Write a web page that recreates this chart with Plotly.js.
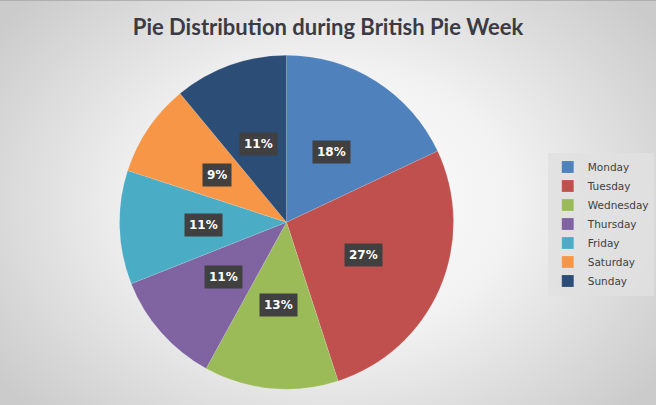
<!DOCTYPE html>
<html>
<head>
<meta charset="utf-8">
<script src="https://cdn.plot.ly/plotly-3.0.1.min.js"></script>
<style>
  html, body { margin: 0; padding: 0; }
  #chart {
    width: 656px; height: 405px;
    background: radial-gradient(ellipse 62% 75% at 50% 50%, #ffffff 0%, #f2f2f2 45%, #d9d9d9 80%, #cbcbcb 100%);
    border-top: 1px solid #b0b0b0;
    box-sizing: border-box;
  }
</style>
</head>
<body>
<div id="chart"></div>
<script>
const days = ["Monday", "Tuesday", "Wednesday", "Thursday", "Friday", "Saturday", "Sunday"];
const shares = [18, 27, 13, 11, 11, 9, 11];
const colors = ["#4f81bd", "#c0504d", "#9bbb59", "#8064a2", "#4bacc6", "#f79646", "#2c4d75"];

const W = 656, H = 404;
const dom = { x: [0.1822, 0.6913], y: [0.039, 0.866] };

// label boxes placed at half radius along each slice's mid-angle (from data)
const total = shares.reduce((a, b) => a + b, 0);
const cx = (dom.x[0] + dom.x[1]) / 2 * W;
const cy = (dom.y[0] + dom.y[1]) / 2 * H;
const R = Math.min((dom.x[1] - dom.x[0]) * W, (dom.y[1] - dom.y[0]) * H) / 2;
let cum = 0;
const annotations = shares.map((v) => {
  const mid = (cum + v / 2) / total * 2 * Math.PI;
  cum += v;
  const rr = R * 0.5;
  return {
    x: (cx + rr * Math.sin(mid)) / W,
    y: (cy + rr * Math.cos(mid)) / H,
    xref: "paper", yref: "paper",
    xanchor: "center", yanchor: "middle",
    text: "<b>" + Math.round(v / total * 100) + "%</b>",
    showarrow: false,
    bgcolor: "#404040",
    borderpad: 4,
    font: { family: "Verdana, DejaVu Sans, sans-serif", size: 12, color: "#ffffff" }
  };
});

const trace = {
  type: "pie",
  labels: days,
  values: shares,
  sort: false,
  direction: "clockwise",
  rotation: 0,
  textinfo: "none",
  hoverinfo: "label+percent",
  marker: { colors: colors, line: { color: "rgba(255,255,255,0.25)", width: 0.5 } },
  domain: dom
};

const layout = {
  width: 656, height: 404,
  margin: { l: 0, r: 0, t: 0, b: 0 },
  paper_bgcolor: "rgba(0,0,0,0)",
  plot_bgcolor: "rgba(0,0,0,0)",
  title: {
    text: "<b>Pie Distribution during British Pie Week</b>",
    font: { family: "Lato, Open Sans, sans-serif", size: 22, color: "#3b3b45" },
    x: 0.5, xanchor: "center", y: 0.935, yanchor: "middle"
  },
  showlegend: true,
  legend: {
    x: 0.835, xanchor: "left", y: 0.448, yanchor: "middle",
    bgcolor: "rgba(225,225,225,0.85)",
    itemwidth: 30,
    font: { family: "Tahoma, DejaVu Sans, sans-serif", size: 10.5, color: "#404040" },
    itemclick: false
  },
  annotations: annotations
};

Plotly.newPlot("chart", [trace], layout, { displayModeBar: false, staticPlot: true });
</script>
</body>
</html>
